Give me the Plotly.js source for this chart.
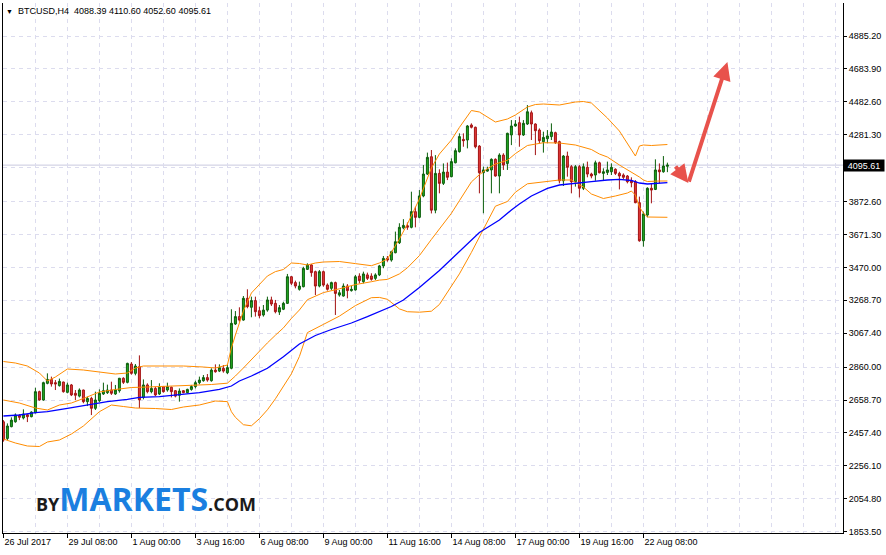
<!DOCTYPE html>
<html><head><meta charset="utf-8">
<script src="https://cdn.plot.ly/plotly-3.0.1.min.js"></script>
<style>html,body{margin:0;padding:0;background:#fff;}#chart{width:886px;height:555px;}</style>
</head><body><div id="chart"></div>
<script>
// ---- BTCUSD H4 candles (bar index 0 = 26 Jul 2017 16:00) ----
const openP = [2526,2424,2496,2526,2565,2549,2569,2557,2581,2710,
 2659,2761,2785,2765,2747,2769,2706,2751,2700,2683,
 2720,2649,2669,2608,2655,2696,2704,2720,2696,2716,
 2792,2767,2879,2822,2863,2675,2751,2710,2730,2696,
 2741,2720,2737,2716,2688,2716,2704,2724,2741,2765,
 2777,2796,2777,2842,2836,2853,2826,2853,3124,3169,
 3148,3281,3226,3267,3205,3179,3209,3271,3250,3197,
 3214,3250,3413,3377,3336,3352,3458,3485,3444,3356,
 3444,3362,3342,3377,3301,3295,3356,3328,3332,3417,
 3383,3424,3417,3403,3424,3479,3525,3515,3560,3621,
 3712,3725,3715,3811,3776,3907,4041,4147,3820,4045,
 3984,4053,4025,4110,4178,4253,4249,4341,4327,4212,
 4049,4059,4066,4131,4029,4157,4106,4280,4335,4355,
 4280,4347,4416,4347,4310,4239,4257,4270,4294,4239,
 4000,4151,4086,3994,4086,3954,4082,4041,4035,4110,
 4045,4051,4055,4070,4045,4035,4029,4000,3994,3866,
 3633,3790,3954,3947,4066,4055,4088.39];
const highP = [2536,2516,2553,2577,2573,2602,2573,2590,2734,2716,
 2771,2822,2802,2781,2790,2771,2765,2757,2720,2730,
 2722,2679,2679,2710,2724,2765,2753,2771,2751,2794,
 2798,2887,2891,2879,2932,2785,2761,2781,2741,2761,
 2745,2765,2741,2720,2730,2720,2728,2751,2777,2802,
 2812,2818,2853,2877,2877,2873,2873,3214,3203,3226,
 3295,3336,3291,3291,3230,3240,3291,3291,3271,3240,
 3260,3430,3417,3389,3383,3474,3495,3491,3450,3454,
 3450,3372,3383,3383,3332,3372,3368,3356,3424,3434,
 3444,3438,3434,3434,3485,3540,3540,3572,3689,3740,
 3765,3745,3933,3841,3943,4096,4172,4188,4157,4070,
 4106,4111,4137,4198,4290,4290,4341,4351,4331,4218,
 4086,4086,4137,4137,4168,4168,4294,4371,4371,4392,
 4371,4463,4429,4351,4320,4300,4310,4351,4300,4245,
 4157,4178,4096,4096,4096,4106,4117,4049,4123,4117,
 4076,4117,4106,4076,4055,4045,4035,4021,4004,3903,
 3811,3960,3984,4131,4106,4151,4110.60];
const lowP = [2404,2414,2492,2520,2536,2540,2524,2553,2577,2655,
 2655,2755,2741,2720,2741,2704,2700,2683,2659,2675,
 2639,2622,2567,2598,2647,2690,2696,2690,2690,2704,
 2757,2761,2814,2810,2610,2663,2700,2700,2683,2690,
 2704,2710,2675,2675,2649,2700,2700,2716,2730,2755,
 2771,2771,2771,2826,2830,2826,2818,2847,3118,3138,
 3144,3220,3165,3169,3159,3169,3199,3234,3189,3179,
 3209,3246,3362,3342,3328,3348,3454,3413,3301,3348,
 3352,3328,3332,3179,3291,3291,3281,3322,3328,3372,
 3372,3393,3389,3393,3417,3465,3505,3505,3556,3613,
 3703,3700,3709,3715,3770,3899,4035,3800,3801,3923,
 3974,4004,4021,4106,4172,4208,4198,4320,4198,3923,
 3801,4055,3923,4025,3923,4066,4066,4218,4331,4208,
 4274,4341,4249,4157,4229,4172,4229,4249,4225,3984,
 3968,4025,3923,3964,3898,3943,4021,4015,4000,4045,
 4000,4035,4035,4035,3947,4009,3984,3960,3862,3627,
 3597,3776,3862,3943,3984,4049,4052.60];
const closeP = [2414,2500,2536,2567,2553,2573,2557,2585,2710,2659,
 2765,2785,2757,2757,2773,2710,2751,2690,2688,2720,
 2649,2669,2608,2659,2700,2716,2720,2700,2720,2792,
 2767,2883,2822,2867,2660,2751,2710,2730,2690,2737,
 2710,2741,2710,2683,2714,2704,2724,2741,2765,2781,
 2796,2781,2842,2832,2857,2836,2857,3128,3169,3148,
 3281,3230,3267,3199,3175,3209,3271,3246,3199,3224,
 3250,3413,3373,3356,3356,3464,3485,3438,3356,3444,
 3362,3336,3377,3311,3315,3356,3328,3336,3413,3389,
 3430,3403,3397,3424,3479,3525,3515,3566,3627,3715,
 3727,3716,3811,3776,3907,4041,4143,3820,4045,3984,
 4053,4021,4117,4184,4270,4245,4335,4327,4208,4049,
 4066,4070,4131,4029,4157,4096,4290,4335,4347,4280,
 4351,4422,4347,4306,4245,4265,4274,4298,4233,4000,
 4151,4082,3994,4086,3954,4086,4041,4029,4110,4049,
 4055,4066,4082,4045,4029,4021,3994,3988,3866,3633,
 3797,3954,3943,4066,4055,4090,4095.61];

// ---- Bollinger bands (orange) read at bar indices ----
const upperIdx = [0,3,6,9,11,13,16,20,24,28,31,33,35,40,45,50,53,56,57,58,60,62,64,66,68,70,72,74,76,78,80,84,88,92,94,96,99,101,104,107,109,112,114,117,119,121,123,126,128,131,133,135,139,143,145,147,149,151,154,156,157,158,159,160,162,164,166];
const upperBand = [2894.5,2885.3,2866.9,2824.1,2775.2,2799.7,2848.6,2842.5,2830.2,2818.0,2824.1,2854.7,2866.9,2866.9,2866.9,2860.8,2854.7,2873.1,2977.0,3056.5,3203.3,3313.4,3368.5,3417.4,3444.3,3457.1,3496.9,3493.8,3484.7,3496.9,3503.0,3506.1,3493.2,3480.4,3496.9,3521.4,3643.7,3735.4,3888.3,4077.9,4163.5,4249.2,4326.2,4429.6,4420.4,4389.8,4359.2,4377.6,4402.1,4451.0,4466.3,4469.3,4463.2,4481.6,4484.6,4475.5,4432.6,4383.7,4304.2,4230.8,4194.1,4151.3,4212.5,4218.6,4215.5,4218.6,4221.6];
const middleIdx = [0,4,8,11,14,17,20,24,28,32,36,40,44,48,52,56,57,58,60,62,64,66,68,70,72,74,76,80,84,88,92,94,96,99,101,104,107,109,112,114,117,119,121,123,126,128,131,135,139,143,147,149,151,154,157,159,160,161,164,166];
const middleBand = [2659.0,2640.7,2610.1,2597.8,2628.4,2640.7,2668.2,2707.9,2723.2,2735.4,2738.5,2741.6,2744.6,2747.7,2753.8,2761.8,2781.3,2805.8,2854.7,2906.7,2955.6,3008.2,3055.3,3100.0,3158.1,3209.4,3272.4,3315.9,3339.1,3364.8,3382.5,3392.3,3396.6,3430.2,3467.5,3542.1,3641.2,3702.4,3800.9,3877.9,3992.9,4036.9,4073.6,4102.4,4125.0,4166.0,4215.5,4232.6,4230.8,4218.6,4191.1,4163.5,4145.2,4096.3,4053.4,4022.9,4004.5,3995.3,3998.4,3998.4];
const lowerIdx = [0,3,6,9,11,14,17,20,24,27,30,33,38,42,45,49,53,56,57,58,60,62,64,66,68,70,72,74,76,80,84,88,92,94,96,99,101,104,107,109,112,114,117,119,121,123,126,128,131,135,139,142,145,147,150,153,156,157,158,159,160,161,164,166];
const lowerBand = [2420.5,2396.0,2377.7,2374.6,2402.1,2414.4,2451.1,2500.0,2587.5,2628.4,2619.2,2610.1,2607.0,2600.9,2616.2,2628.4,2652.9,2649.2,2587.5,2553.2,2507.9,2501.2,2544.6,2599.0,2666.3,2742.8,2819.2,2925.0,3071.2,3121.4,3172.1,3236.3,3284.7,3286.5,3274.9,3216.2,3199.0,3196.0,3202.1,3243.1,3353.2,3430.2,3561.7,3658.4,3757.4,3844.3,3873.0,3929.9,3981.3,3994.7,4004.5,4004.5,3961.7,3918.9,3891.4,3906.7,3925.0,3937.2,3912.8,3839.4,3802.7,3778.2,3778.2,3776.4];
// ---- moving average (blue) ----
const maIdx = [0,4,8,11,16,21,26,31,34,39,44,49,54,57,59,62,66,70,74,78,82,87,91,94,97,100,104,109,113,117,119,122,124,127,129,132,136,139,142,147,151,154,157,159,161,164,166];
const maLine = [2561.1,2567.3,2581.3,2587.4,2608.2,2628.4,2648.6,2663.3,2675.5,2679.2,2689.6,2703.7,2724.5,2744.6,2775.2,2805.8,2852.9,2923.8,3001.5,3053.5,3090.2,3129.9,3168.5,3199.0,3230.8,3270.6,3347.0,3451.0,3545.8,3637.6,3683.4,3729.3,3759.9,3821.0,3857.7,3906.7,3953.8,3973.9,3983.1,3994.1,4004.5,4008.8,4001.5,3986.2,3980.1,3983.1,3988.0];

// ---- axis labels ----
const timeTickIdx = [0,16,32,48,64,80,96,112,128,144,160];
const timeTickLabels = ["26 Jul 2017","29 Jul 08:00","1 Aug 00:00","3 Aug 16:00","6 Aug 08:00","9 Aug 00:00","11 Aug 16:00","14 Aug 08:00","17 Aug 00:00","19 Aug 16:00","22 Aug 08:00"];
const priceTickVals = [4885.2,4683.9,4482.6,4281.3,4080.0,3872.6,3671.3,3470.0,3268.7,3067.4,2860.0,2658.7,2457.4,2256.1,2054.8,1853.5];
// the 4080.00 label sits under the current-price box, so it is left blank
const priceTickText = ["4885.20","4683.90","4482.60","4281.30","","3872.60","3671.30","3470.00","3268.70","3067.40","2860.00","2658.70","2457.40","2256.10","2054.80","1853.50"];
const symbolName = "BTCUSD,H4";

const barIdx = openP.map((_, i) => i);
const last = openP.length - 1;
const f2 = v => v.toFixed(2);

const traces = [
  {type:'scatter', mode:'lines', x: upperIdx, y: upperBand, line:{color:'#ff8c00', width:1}, hoverinfo:'skip'},
  {type:'scatter', mode:'lines', x: middleIdx, y: middleBand, line:{color:'#ff8c00', width:1}, hoverinfo:'skip'},
  {type:'scatter', mode:'lines', x: lowerIdx, y: lowerBand, line:{color:'#ff8c00', width:1}, hoverinfo:'skip'},
  {type:'scatter', mode:'lines', x: maIdx, y: maLine, line:{color:'#0000ff', width:1.3}, hoverinfo:'skip'},
  {type:'candlestick', x: barIdx, open: openP, high: highP, low: lowP, close: closeP,
   increasing:{line:{color:'#0b5e0b', width:1}, fillcolor:'#22aa22'},
   decreasing:{line:{color:'#a31212', width:1}, fillcolor:'#e23a3a'},
   whiskerwidth:0, hoverinfo:'skip'}
];

const gridCol = '#dcdcee';
const layout = {
  width: 886, height: 555,
  margin: {l: 3, r: 43, t: 3, b: 22, pad: 0},
  paper_bgcolor: '#ffffff', plot_bgcolor: '#ffffff',
  showlegend: false,
  font: {family: 'Liberation Sans, Arial, sans-serif', size: 9, color: '#000'},
  xaxis: {
    range: [-0.1, 209.9], rangeslider: {visible: false}, fixedrange: true,
    tickmode: 'array', tickvals: timeTickIdx, ticktext: timeTickLabels,
    ticklabelposition: 'outside right',
    ticks: 'outside', ticklen: 4, tickcolor: '#000', tickwidth: 1,
    showline: true, linecolor: '#000', linewidth: 1,
    showgrid: false, zeroline: false,
    minor: {tickmode: 'linear', tick0: 0, dtick: 8, showgrid: true, gridcolor: gridCol, griddash: '4px,4px', gridwidth: 1, ticks: ''},
    tickfont: {size: 9, color: '#000'}
  },
  yaxis: {
    side: 'right', range: [1845.6, 5087.1], fixedrange: true,
    tickmode: 'array', tickvals: priceTickVals, ticktext: priceTickText,
    ticks: 'outside', ticklen: 3, tickcolor: '#000', tickwidth: 1,
    showgrid: true, gridcolor: gridCol, griddash: '4px,4px', gridwidth: 1,
    showline: true, mirror: true, linecolor: '#000', linewidth: 1,
    zeroline: false, tickfont: {size: 9, color: '#000'}
  },
  shapes: [
    {type:'line', xref:'paper', x0:0, x1:1, yref:'y', y0: closeP[last], y1: closeP[last], line:{color:'#c9c9df', width:1}, layer:'below'}
  ],
  annotations: [
    {xref:'paper', yref:'paper', x:0, y:1, xanchor:'left', yanchor:'top', xshift:1, yshift:-1, showarrow:false,
     text: "<span style='font-size:7px'>▼</span>  " + symbolName + "  " + f2(openP[last]) + " " + f2(highP[last]) + " " + f2(lowP[last]) + " " + f2(closeP[last]),
     font:{size:9, color:'#000'}},
    {xref:'paper', yref:'y', x:1, y: closeP[last], xanchor:'left', yanchor:'middle', showarrow:false,
     text: f2(closeP[last]), bgcolor:'#000000', font:{size:9, color:'#ffffff'}, width:40, height:11, borderpad:0, align:'center'},
    {xref:'paper', yref:'paper', x:0.037, y:0.02, xanchor:'left', yanchor:'bottom', showarrow:false,
     text: "<b><span style='font-size:18px;color:#1b1b1b'>BY</span><span style='font-size:32px;color:#1a7fe0'>MARKETS</span><span style='font-size:18px;color:#1b1b1b'>.COM</span></b>",
     font:{family:'Open Sans, sans-serif', size:18, color:'#1b1b1b'}},
    {xref:'x', yref:'y', x:171.25, y:3986, ax:-14, ay:-18, showarrow:true, arrowhead:2, arrowsize:0.9, arrowwidth:4, arrowcolor:'#e8524c', text:''},
    {xref:'x', yref:'y', x:181, y:4726, ax:-39, ay:121, showarrow:true, arrowhead:2, arrowsize:0.9, arrowwidth:4, arrowcolor:'#e8524c', text:''}
  ]
};

Plotly.newPlot('chart', traces, layout, {staticPlot: true, displayModeBar: false});
</script>
</body></html>
